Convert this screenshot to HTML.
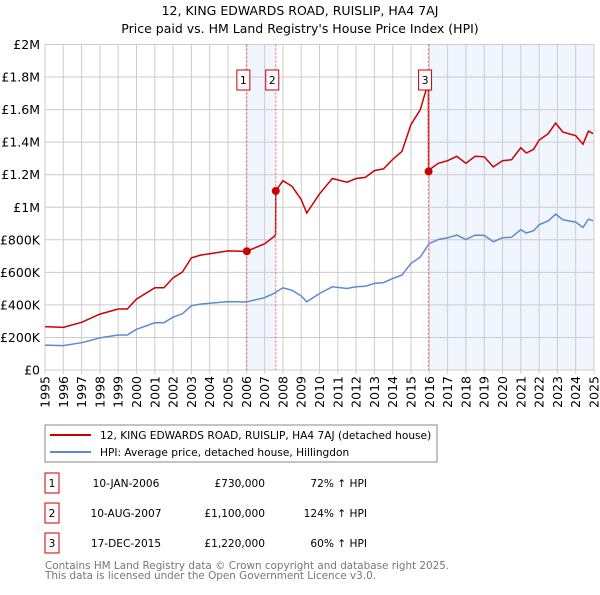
<!DOCTYPE html>
<html><head><meta charset="utf-8"><style>
body{margin:0;background:#fff;font-family:"Liberation Sans","DejaVu Sans",sans-serif}
svg text{font-family:"DejaVu Sans","Liberation Sans",sans-serif}
</style></head><body>
<svg id="c" width="600" height="590" viewBox="0 0 600 590">
<text x="300" y="15" text-anchor="middle" font-size="12.5">12, KING EDWARDS ROAD, RUISLIP, HA4 7AJ</text>
<text x="300" y="33" text-anchor="middle" font-size="12.5">Price paid vs. HM Land Registry's House Price Index (HPI)</text>
<g id="plot"></g>
<rect x="45" y="425" width="392" height="37" fill="none" stroke="#888"/>
<line x1="50" y1="435" x2="91" y2="435" stroke="#cc0000" stroke-width="2"/>
<text x="100" y="439" font-size="10.6">12, KING EDWARDS ROAD, RUISLIP, HA4 7AJ (detached house)</text>
<line x1="50" y1="452" x2="91" y2="452" stroke="#5b8bd0" stroke-width="2"/>
<text x="100" y="456" font-size="10.6">HPI: Average price, detached house, Hillingdon</text>
<g id="table" font-size="10.6"></g>
<text x="45" y="569" font-size="10.4" fill="#777">Contains HM Land Registry data © Crown copyright and database right 2025.</text>
<text x="45" y="579" font-size="10.4" fill="#777">This data is licensed under the Open Government Licence v3.0.</text>
</svg>
<script>
const hpiYears=[1995,1996,1997,1998,1999,1999.5,2000,2001,2001.5,2002,2002.5,2003,2003.5,2004,2005,2006,2007,2007.5,2008,2008.5,2009,2009.3,2010,2010.7,2011.5,2012,2012.5,2013,2013.5,2014,2014.5,2015,2015.5,2016,2016.5,2017,2017.5,2018,2018.5,2019,2019.5,2020,2020.5,2021,2021.3,2021.7,2022,2022.5,2022.9,2023.3,2024,2024.4,2024.7,2024.95];
const hpiValues=[153,150,168,197,215,215,250,290,290,325,345,395,405,410,420,418,445,470,505,490,455,419,470,511,501,511,514,532,537,562,583,655,694,777,802,812,829,802,829,827,788,812,816,862,842,856,892,917,958,923,909,876,927,917];
const saleLabels=["1","2","3"];
const saleDates=["10-JAN-2006","10-AUG-2007","17-DEC-2015"];
const saleYears=[2006.03,2007.61,2015.96];
const salePrices=[730000,1100000,1220000];
const salePctText=["72% ↑ HPI","124% ↑ HPI","60% ↑ HPI"];
const yTicks=[0,200,400,600,800,1000,1200,1400,1600,1800,2000];
const yTickLabels=["£0","£200K","£400K","£600K","£800K","£1M","£1.2M","£1.4M","£1.6M","£1.8M","£2M"];
const xTickYears=[1995,1996,1997,1998,1999,2000,2001,2002,2003,2004,2005,2006,2007,2008,2009,2010,2011,2012,2013,2014,2015,2016,2017,2018,2019,2020,2021,2022,2023,2024,2025];

const X0=45,X1=594,Y0=370,Y1=44.5;
const xs=y=>X0+(y-1995)/(2025-1995)*(X1-X0);
const ys=v=>Y0-v/2000*(Y0-Y1);
const NS="http://www.w3.org/2000/svg";
const plot=document.getElementById('plot');
function mk(tag,attrs,parent){const e=document.createElementNS(NS,tag);for(const k in attrs)e.setAttribute(k,attrs[k]);(parent||plot).appendChild(e);return e;}
function hpiAt(t){if(t<=hpiYears[0])return hpiValues[0];for(let i=1;i<hpiYears.length;i++){if(t<=hpiYears[i]){const f=(t-hpiYears[i-1])/(hpiYears[i]-hpiYears[i-1]);return hpiValues[i-1]+f*(hpiValues[i]-hpiValues[i-1]);}}return hpiValues[hpiValues.length-1];}

let sh=mk('rect',{x:xs(saleYears[0]),y:Y1,width:xs(saleYears[1])-xs(saleYears[0]),height:Y0-Y1,fill:'#eef3fc',opacity:0.8});


let sh2=mk('rect',{x:xs(saleYears[2]),y:Y1,width:X1-xs(saleYears[2]),height:Y0-Y1,fill:'#eef3fc',opacity:0.8});


yTicks.forEach((v,i)=>{
 const l=mk('line',{x1:X0,x2:X1,y1:ys(v),y2:ys(v),stroke:'#ccc'});
 
 
 const t=mk('text',{x:X0-5,y:ys(v)+4.5,'text-anchor':'end','font-size':'12.5'});
 t.textContent=yTickLabels[i];
 
 
});
xTickYears.forEach(yr=>{
 const l=mk('line',{x1:xs(yr),x2:xs(yr),y1:Y1,y2:Y0+4,stroke:'#ccc'});
 
 
 const t=mk('text',{x:0,y:0,'font-size':'12.5','text-anchor':'end',transform:`translate(${xs(yr)+4.5},${Y0+6}) rotate(-90)`});
 t.textContent=yr;
 
 
});
let hp=hpiYears.map((y,i)=>`${xs(y).toFixed(1)},${ys(hpiValues[i]).toFixed(1)}`).join(' ');
const hl=mk('polyline',{points:hp,fill:'none',stroke:'#5b8bd0','stroke-width':1.5});


let pts=[];
const ratios=saleYears.map((y,i)=>salePrices[i]/1000/hpiAt(y));
const grid=[...new Set([...hpiYears,...saleYears,...saleYears.map(s=>s-0.01)])].sort((a,b)=>a-b);
grid.forEach(t=>{let k=0;for(let i=0;i<saleYears.length;i++)if(t>=saleYears[i])k=i;pts.push(`${xs(t).toFixed(1)},${ys(hpiAt(t)*ratios[k]).toFixed(1)}`);});
const pl=mk('polyline',{points:pts.join(' '),fill:'none',stroke:'#cc0000','stroke-width':1.5});


const tb=document.getElementById('table');
saleYears.forEach((y,i)=>{
 const vl=mk('line',{x1:xs(y),x2:xs(y),y1:Y1,y2:Y0,stroke:'#f06060','stroke-dasharray':'2,2'});
 
 
 const c=mk('circle',{cx:xs(y),cy:ys(salePrices[i]/1000),r:4,fill:'#cc0000'});
 
 
 const b=mk('rect',{x:xs(y)-10,y:70,width:13,height:20,fill:'#fff',stroke:'#cc0000'});
 
 
 const t=mk('text',{x:xs(y)-3.5,y:84,'text-anchor':'middle','font-size':'11'});
 t.textContent=saleLabels[i];
 
 
 const cy=483+i*30;
 const rb=mk('rect',{x:45,y:cy-10,width:14,height:20,fill:'#fff',stroke:'#cc0000'},tb);
 
 
 const rn=mk('text',{x:52,y:cy+4,'text-anchor':'middle'},tb);
 rn.textContent=saleLabels[i];
 
 
 const d=mk('text',{x:126,y:cy+4,'text-anchor':'middle'},tb);
 d.textContent=saleDates[i];
 
 
 const p=mk('text',{x:265,y:cy+4,'text-anchor':'end'},tb);
 p.textContent='£'+salePrices[i].toLocaleString('en-GB');
 
 
 const h=mk('text',{x:367,y:cy+4,'text-anchor':'end'},tb);
 h.textContent=salePctText[i];
 
 
});
</script>
</body></html>
